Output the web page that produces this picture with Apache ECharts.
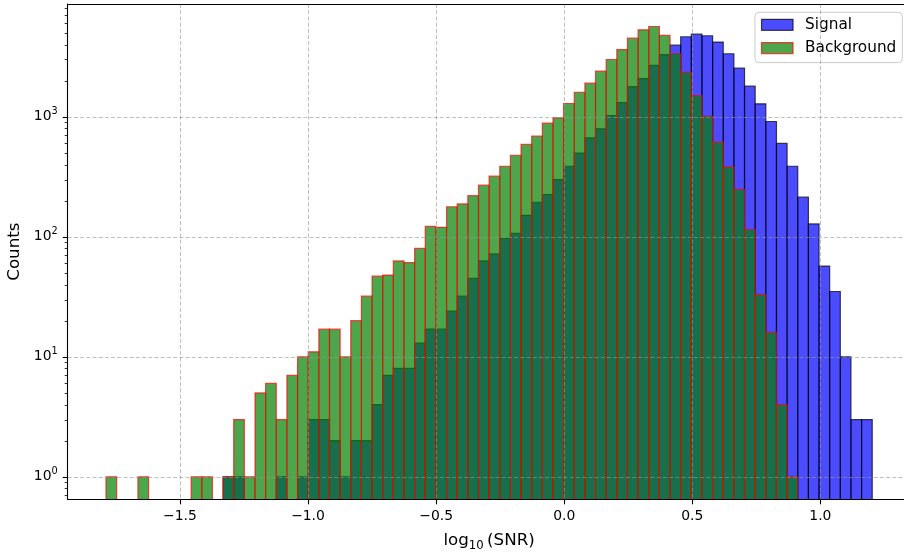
<!DOCTYPE html>
<html>
<head>
<meta charset="utf-8">
<script src="https://cdn.jsdelivr.net/npm/echarts@6/dist/echarts.min.js"></script>
<style>
  html, body { margin: 0; padding: 0; background: #ffffff; }
  #chart { width: 904px; height: 552px; }
</style>
</head>
<body>
<div id="chart"></div>
<script>
// Histogram binning of log10(SNR)
const binStart = -1.7885;
const binWidth = 0.04154;

// Counts per bin (72 bins)
const signalCounts = [
  0, 0, 0, 0, 0, 0, 0, 0, 0, 0,
  0, 1, 1, 0, 0, 0, 1, 0, 1, 3,
  3, 2, 1, 2, 2, 4, 7, 8, 8, 13,
  17, 17, 24, 32, 45, 63, 72, 97, 107, 151,
  194, 225, 300, 387, 497, 668, 794, 1025, 1315, 1780,
  2080, 2680, 3300, 3950, 4640, 4880, 4730, 4190, 3350, 2540,
  1800, 1283, 913, 600, 387, 214, 128, 57, 35, 10,
  3, 3
];
const backgroundCounts = [
  1, 0, 0, 1, 0, 0, 0, 0, 1, 1,
  0, 1, 3, 1, 5, 6, 3, 7, 10, 11,
  17, 17, 10, 20, 32, 47, 48, 63, 61, 80,
  122, 120, 178, 188, 220, 269, 320, 387, 478, 588,
  689, 885, 980, 1290, 1600, 1905, 2400, 3000, 3630, 4520,
  5300, 5650, 4760, 3350, 2350, 1500, 1010, 614, 383, 248,
  115, 33, 16, 4, 1, 0, 0, 0, 0, 0,
  0, 0
];

// Axis ranges and ticks
const xRange = [-1.938, 1.3517];
const yRange = [0.65, 8700];
const xTickValues = [-1.5, -1.0, -0.5, 0.0, 0.5, 1.0];
const yTickValues = [1, 10, 100, 1000];
const yMinorTickValues = [
  0.7, 0.8, 0.9,
  2, 3, 4, 5, 6, 7, 8, 9,
  20, 30, 40, 50, 60, 70, 80, 90,
  200, 300, 400, 500, 600, 700, 800, 900,
  2000, 3000, 4000, 5000, 6000, 7000, 8000
];

const FONT = 'DejaVu Sans';
const GRID_COLOR = 'rgba(150,150,150,0.62)';

function binData(counts) {
  const out = [];
  counts.forEach(function (c, i) {
    if (c > 0) out.push([binStart + i * binWidth, binStart + (i + 1) * binWidth, c]);
  });
  return out;
}

function barRenderer(fill, stroke) {
  return function (params, api) {
    const cs = params.coordSys;
    const pLeft = api.coord([api.value(0), api.value(2)]);
    const pRight = api.coord([api.value(1), api.value(2)]);
    const bottom = cs.y + cs.height + 3;
    return {
      type: 'rect',
      shape: { x: pLeft[0], y: pLeft[1], width: pRight[0] - pLeft[0], height: bottom - pLeft[1] },
      style: { fill: fill, stroke: stroke, lineWidth: 1.2, opacity: 0.7 }
    };
  };
}

// vertical grid line + tick below the x axis
function xGridRenderer(params, api) {
  const cs = params.coordSys;
  const p = api.coord([api.value(0), api.value(1)]);
  const x = Math.round(p[0]) + 0.5;
  const yb = cs.y + cs.height;
  return {
    type: 'group',
    children: [
      { type: 'line', shape: { x1: x, y1: cs.y, x2: x, y2: yb },
        style: { stroke: GRID_COLOR, lineWidth: 1, lineDash: [4, 2.2] } },
      { type: 'line', shape: { x1: x, y1: yb, x2: x, y2: yb + 5 },
        style: { stroke: '#000', lineWidth: 1.1 } }
    ]
  };
}

// horizontal grid line + tick left of the y axis
function yGridRenderer(params, api) {
  const cs = params.coordSys;
  const p = api.coord([api.value(0), api.value(1)]);
  const y = Math.round(p[1]) + 0.5;
  return {
    type: 'group',
    children: [
      { type: 'line', shape: { x1: cs.x, y1: y, x2: cs.x + cs.width, y2: y },
        style: { stroke: GRID_COLOR, lineWidth: 1, lineDash: [4, 2.2] } },
      { type: 'line', shape: { x1: cs.x - 5, y1: y, x2: cs.x, y2: y },
        style: { stroke: '#000', lineWidth: 1.1 } }
    ]
  };
}

function yMinorRenderer(params, api) {
  const cs = params.coordSys;
  const p = api.coord([api.value(0), api.value(1)]);
  const y = Math.round(p[1]) + 0.5;
  return {
    type: 'line',
    shape: { x1: cs.x - 3, y1: y, x2: cs.x, y2: y },
    style: { stroke: '#000', lineWidth: 0.8 }
  };
}

function isTick(list, v) {
  return list.some(function (t) { return Math.abs(t - v) < 1e-6 * Math.max(1, Math.abs(t)); });
}

const chart = echarts.init(document.getElementById('chart'), null, { renderer: 'canvas' });

const option = {
  animation: false,
  backgroundColor: '#ffffff',
  textStyle: { fontFamily: FONT },
  grid: { left: 67.7, right: -6.5, top: 4, bottom: 52.7, containLabel: false, outerBoundsMode: 'none' },
  legend: {
    orient: 'vertical',
    right: 1.7,
    top: 12.3,
    padding: [5, 6, 7, 6],
    itemWidth: 31.5,
    itemHeight: 11,
    itemGap: 8.3,
    backgroundColor: 'rgba(255,255,255,0.8)',
    borderColor: '#cccccc',
    borderWidth: 1,
    borderRadius: 4,
    textStyle: { fontFamily: FONT, fontSize: 15.3, color: '#000', lineHeight: 15, padding: [0, 0, 0, 7] },
    data: [
      { name: 'Signal', icon: 'rect',
        itemStyle: { color: 'rgba(0,0,255,0.7)', borderColor: 'rgba(0,0,0,0.7)', borderWidth: 1.2 } },
      { name: 'Background', icon: 'rect',
        itemStyle: { color: 'rgba(0,128,0,0.7)', borderColor: 'rgba(255,0,0,0.7)', borderWidth: 1.2 } }
    ]
  },
  xAxis: [{
    type: 'value',
    min: xRange[0],
    max: xRange[1],
    z: 10,
    name: 'log{sub|10}\u2009(SNR)',
    nameLocation: 'middle',
    nameGap: 27,
    nameTextStyle: {
      fontFamily: FONT, fontSize: 16.7, color: '#000', lineHeight: 24, verticalAlign: 'top',
      rich: {
        sub: { fontFamily: FONT, fontSize: 11.7, color: '#000', lineHeight: 13, verticalAlign: 'bottom' }
      }
    },
    axisLine: { show: true, onZero: false, lineStyle: { color: '#000', width: 1.1 } },
    axisTick: { show: false },
    splitLine: { show: false },
    axisLabel: {
      margin: 10,
      fontFamily: FONT,
      fontSize: 13.9,
      color: '#000',
      formatter: function (v) {
        if (!isTick(xTickValues, v)) return '';
        return (v < -1e-9 ? '\u2212' : '') + Math.abs(v).toFixed(1);
      }
    }
  }, {
    type: 'value',
    position: 'top',
    min: xRange[0],
    max: xRange[1],
    z: 10,
    axisLine: { show: true, onZero: false, lineStyle: { color: '#000', width: 1.1 } },
    axisTick: { show: false },
    axisLabel: { show: false },
    splitLine: { show: false }
  }],
  yAxis: {
    type: 'log',
    logBase: 10,
    min: yRange[0],
    max: yRange[1],
    z: 10,
    name: 'Counts',
    nameLocation: 'middle',
    nameGap: 44,
    nameRotate: 90,
    nameTextStyle: { fontFamily: FONT, fontSize: 16.7, color: '#000' },
    axisLine: { show: true, onZero: false, lineStyle: { color: '#000', width: 1.1 } },
    axisTick: { show: false },
    splitLine: { show: false },
    minorTick: { show: false },
    axisLabel: {
      margin: 10,
      fontFamily: FONT,
      fontSize: 13.9,
      color: '#000',
      formatter: function (v) {
        if (!isTick(yTickValues, v)) return '';
        return '{b|10}{sup|' + Math.round(Math.log10(v)) + '}';
      },
      rich: {
        b: { fontFamily: FONT, fontSize: 13.9, color: '#000', lineHeight: 20, verticalAlign: 'middle' },
        sup: { fontFamily: FONT, fontSize: 9.7, color: '#000', lineHeight: 11, verticalAlign: 'top' }
      }
    }
  },
  series: [
    {
      name: 'Signal',
      type: 'custom',
      renderItem: barRenderer('rgb(0,0,255)', 'rgb(0,0,0)'),
      itemStyle: { color: 'rgba(0,0,255,0.7)', borderColor: 'rgba(0,0,0,0.7)' },
      encode: { x: [0, 1], y: 2 },
      clip: true,
      z: 2,
      data: binData(signalCounts)
    },
    {
      name: 'Background',
      type: 'custom',
      renderItem: barRenderer('rgb(0,128,0)', 'rgb(255,0,0)'),
      itemStyle: { color: 'rgba(0,128,0,0.7)', borderColor: 'rgba(255,0,0,0.7)' },
      encode: { x: [0, 1], y: 2 },
      clip: true,
      z: 3,
      data: binData(backgroundCounts)
    },
    {
      type: 'custom',
      silent: true,
      renderItem: xGridRenderer,
      encode: { x: 0, y: 1 },
      clip: false,
      z: 5,
      data: xTickValues.map(function (v) { return [v, yRange[0]]; })
    },
    {
      type: 'custom',
      silent: true,
      renderItem: yGridRenderer,
      encode: { x: 0, y: 1 },
      clip: false,
      z: 5,
      data: yTickValues.map(function (v) { return [xRange[0], v]; })
    },
    {
      type: 'custom',
      silent: true,
      renderItem: yMinorRenderer,
      encode: { x: 0, y: 1 },
      clip: false,
      z: 5,
      data: yMinorTickValues.map(function (v) { return [xRange[0], v]; })
    }
  ]
};

chart.setOption(option);
</script>
</body>
</html>
